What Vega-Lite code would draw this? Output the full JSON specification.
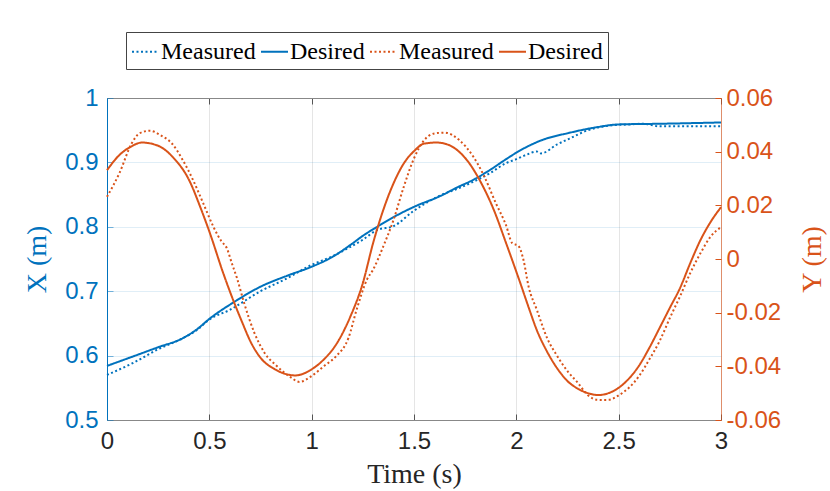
{
  "$schema": "https://vega.github.io/schema/vega-lite/v6.json",
  "width": 614,
  "height": 322,
  "autosize": {"type": "none"},
  "padding": {"left": 107, "top": 98, "right": 109, "bottom": 71},
  "background": "white",
  "config": {
    "view": {"stroke": null},
    "axis": {
      "labelFont": "Liberation Sans",
      "labelFontSize": 24,
      "labelFlush": false,
      "labelOverlap": false,
      "titleFont": "Liberation Serif",
      "titleFontSize": 28,
      "titleFontWeight": "normal",
      "tickSize": -6,
      "domainWidth": 1,
      "tickWidth": 1
    },
    "legend": {
      "labelFont": "Liberation Serif",
      "labelFontSize": 24,
      "labelColor": "black"
    }
  },
  "data": {
    "values": [
      {"t": 0, "v": 0.570, "s": "X Measured"},
      {"t": 0.13, "v": 0.589, "s": "X Measured"},
      {"t": 0.25, "v": 0.610, "s": "X Measured"},
      {"t": 0.37, "v": 0.627, "s": "X Measured"},
      {"t": 0.44, "v": 0.640, "s": "X Measured"},
      {"t": 0.5, "v": 0.656, "s": "X Measured"},
      {"t": 0.6, "v": 0.671, "s": "X Measured"},
      {"t": 0.75, "v": 0.700, "s": "X Measured"},
      {"t": 0.88, "v": 0.720, "s": "X Measured"},
      {"t": 1.0, "v": 0.741, "s": "X Measured"},
      {"t": 1.1, "v": 0.754, "s": "X Measured"},
      {"t": 1.19, "v": 0.769, "s": "X Measured"},
      {"t": 1.25, "v": 0.780, "s": "X Measured"},
      {"t": 1.32, "v": 0.795, "s": "X Measured"},
      {"t": 1.4, "v": 0.801, "s": "X Measured"},
      {"t": 1.5, "v": 0.825, "s": "X Measured"},
      {"t": 1.63, "v": 0.849, "s": "X Measured"},
      {"t": 1.72, "v": 0.860, "s": "X Measured"},
      {"t": 1.79, "v": 0.870, "s": "X Measured"},
      {"t": 1.87, "v": 0.883, "s": "X Measured"},
      {"t": 1.95, "v": 0.899, "s": "X Measured"},
      {"t": 2.0, "v": 0.905, "s": "X Measured"},
      {"t": 2.05, "v": 0.912, "s": "X Measured"},
      {"t": 2.1, "v": 0.917, "s": "X Measured"},
      {"t": 2.12, "v": 0.914, "s": "X Measured"},
      {"t": 2.2, "v": 0.928, "s": "X Measured"},
      {"t": 2.26, "v": 0.937, "s": "X Measured"},
      {"t": 2.35, "v": 0.950, "s": "X Measured"},
      {"t": 2.45, "v": 0.957, "s": "X Measured"},
      {"t": 2.55, "v": 0.959, "s": "X Measured"},
      {"t": 2.62, "v": 0.960, "s": "X Measured"},
      {"t": 2.7, "v": 0.956, "s": "X Measured"},
      {"t": 2.8, "v": 0.956, "s": "X Measured"},
      {"t": 3.0, "v": 0.956, "s": "X Measured"},

      {"t": 0, "v": 0.584, "s": "X Desired"},
      {"t": 0.13, "v": 0.599, "s": "X Desired"},
      {"t": 0.25, "v": 0.613, "s": "X Desired"},
      {"t": 0.37, "v": 0.627, "s": "X Desired"},
      {"t": 0.44, "v": 0.641, "s": "X Desired"},
      {"t": 0.5, "v": 0.657, "s": "X Desired"},
      {"t": 0.62, "v": 0.683, "s": "X Desired"},
      {"t": 0.75, "v": 0.707, "s": "X Desired"},
      {"t": 0.88, "v": 0.724, "s": "X Desired"},
      {"t": 1.0, "v": 0.738, "s": "X Desired"},
      {"t": 1.1, "v": 0.753, "s": "X Desired"},
      {"t": 1.19, "v": 0.772, "s": "X Desired"},
      {"t": 1.25, "v": 0.786, "s": "X Desired"},
      {"t": 1.32, "v": 0.800, "s": "X Desired"},
      {"t": 1.4, "v": 0.815, "s": "X Desired"},
      {"t": 1.5, "v": 0.831, "s": "X Desired"},
      {"t": 1.63, "v": 0.848, "s": "X Desired"},
      {"t": 1.71, "v": 0.861, "s": "X Desired"},
      {"t": 1.79, "v": 0.873, "s": "X Desired"},
      {"t": 1.87, "v": 0.888, "s": "X Desired"},
      {"t": 1.95, "v": 0.905, "s": "X Desired"},
      {"t": 2.01, "v": 0.917, "s": "X Desired"},
      {"t": 2.12, "v": 0.934, "s": "X Desired"},
      {"t": 2.26, "v": 0.946, "s": "X Desired"},
      {"t": 2.4, "v": 0.955, "s": "X Desired"},
      {"t": 2.5, "v": 0.959, "s": "X Desired"},
      {"t": 2.7, "v": 0.960, "s": "X Desired"},
      {"t": 3.0, "v": 0.962, "s": "X Desired"},

      {"t": 0, "v": 0.0232, "s": "Y Measured"},
      {"t": 0.06, "v": 0.0319, "s": "Y Measured"},
      {"t": 0.12, "v": 0.0430, "s": "Y Measured"},
      {"t": 0.16, "v": 0.0469, "s": "Y Measured"},
      {"t": 0.21, "v": 0.0478, "s": "Y Measured"},
      {"t": 0.26, "v": 0.0462, "s": "Y Measured"},
      {"t": 0.32, "v": 0.0428, "s": "Y Measured"},
      {"t": 0.37, "v": 0.0369, "s": "Y Measured"},
      {"t": 0.42, "v": 0.0295, "s": "Y Measured"},
      {"t": 0.47, "v": 0.0208, "s": "Y Measured"},
      {"t": 0.52, "v": 0.0120, "s": "Y Measured"},
      {"t": 0.56, "v": 0.0065, "s": "Y Measured"},
      {"t": 0.585, "v": 0.0041, "s": "Y Measured"},
      {"t": 0.61, "v": -0.0016, "s": "Y Measured"},
      {"t": 0.635, "v": -0.0071, "s": "Y Measured"},
      {"t": 0.67, "v": -0.0164, "s": "Y Measured"},
      {"t": 0.72, "v": -0.0275, "s": "Y Measured"},
      {"t": 0.77, "v": -0.0350, "s": "Y Measured"},
      {"t": 0.83, "v": -0.0399, "s": "Y Measured"},
      {"t": 0.9, "v": -0.0442, "s": "Y Measured"},
      {"t": 0.94, "v": -0.0458, "s": "Y Measured"},
      {"t": 1.0, "v": -0.0436, "s": "Y Measured"},
      {"t": 1.06, "v": -0.0399, "s": "Y Measured"},
      {"t": 1.12, "v": -0.0362, "s": "Y Measured"},
      {"t": 1.18, "v": -0.0294, "s": "Y Measured"},
      {"t": 1.22, "v": -0.0188, "s": "Y Measured"},
      {"t": 1.27, "v": -0.0077, "s": "Y Measured"},
      {"t": 1.3, "v": -0.0040, "s": "Y Measured"},
      {"t": 1.35, "v": 0.0047, "s": "Y Measured"},
      {"t": 1.4, "v": 0.0146, "s": "Y Measured"},
      {"t": 1.45, "v": 0.0269, "s": "Y Measured"},
      {"t": 1.5, "v": 0.0375, "s": "Y Measured"},
      {"t": 1.55, "v": 0.0443, "s": "Y Measured"},
      {"t": 1.6, "v": 0.0468, "s": "Y Measured"},
      {"t": 1.65, "v": 0.0471, "s": "Y Measured"},
      {"t": 1.72, "v": 0.0444, "s": "Y Measured"},
      {"t": 1.79, "v": 0.0381, "s": "Y Measured"},
      {"t": 1.84, "v": 0.0313, "s": "Y Measured"},
      {"t": 1.9, "v": 0.0208, "s": "Y Measured"},
      {"t": 1.95, "v": 0.0125, "s": "Y Measured"},
      {"t": 1.98, "v": 0.0059, "s": "Y Measured"},
      {"t": 2.01, "v": 0.0049, "s": "Y Measured"},
      {"t": 2.035, "v": -0.0004, "s": "Y Measured"},
      {"t": 2.06, "v": -0.0103, "s": "Y Measured"},
      {"t": 2.1, "v": -0.0189, "s": "Y Measured"},
      {"t": 2.15, "v": -0.0294, "s": "Y Measured"},
      {"t": 2.2, "v": -0.0362, "s": "Y Measured"},
      {"t": 2.25, "v": -0.0418, "s": "Y Measured"},
      {"t": 2.3, "v": -0.0461, "s": "Y Measured"},
      {"t": 2.35, "v": -0.0508, "s": "Y Measured"},
      {"t": 2.4, "v": -0.0525, "s": "Y Measured"},
      {"t": 2.45, "v": -0.0525, "s": "Y Measured"},
      {"t": 2.5, "v": -0.0508, "s": "Y Measured"},
      {"t": 2.55, "v": -0.0480, "s": "Y Measured"},
      {"t": 2.6, "v": -0.0436, "s": "Y Measured"},
      {"t": 2.65, "v": -0.0374, "s": "Y Measured"},
      {"t": 2.7, "v": -0.0306, "s": "Y Measured"},
      {"t": 2.75, "v": -0.0220, "s": "Y Measured"},
      {"t": 2.8, "v": -0.0139, "s": "Y Measured"},
      {"t": 2.85, "v": -0.0052, "s": "Y Measured"},
      {"t": 2.9, "v": 0.0022, "s": "Y Measured"},
      {"t": 2.95, "v": 0.0084, "s": "Y Measured"},
      {"t": 3.0, "v": 0.0119, "s": "Y Measured"},

      {"t": 0, "v": 0.0331, "s": "Y Desired"},
      {"t": 0.06, "v": 0.0387, "s": "Y Desired"},
      {"t": 0.12, "v": 0.0420, "s": "Y Desired"},
      {"t": 0.17, "v": 0.0434, "s": "Y Desired"},
      {"t": 0.25, "v": 0.0422, "s": "Y Desired"},
      {"t": 0.32, "v": 0.0381, "s": "Y Desired"},
      {"t": 0.405, "v": 0.0288, "s": "Y Desired"},
      {"t": 0.455, "v": 0.0195, "s": "Y Desired"},
      {"t": 0.503, "v": 0.0096, "s": "Y Desired"},
      {"t": 0.568, "v": -0.0053, "s": "Y Desired"},
      {"t": 0.62, "v": -0.0160, "s": "Y Desired"},
      {"t": 0.66, "v": -0.0235, "s": "Y Desired"},
      {"t": 0.7, "v": -0.0306, "s": "Y Desired"},
      {"t": 0.75, "v": -0.0368, "s": "Y Desired"},
      {"t": 0.82, "v": -0.0411, "s": "Y Desired"},
      {"t": 0.88, "v": -0.0430, "s": "Y Desired"},
      {"t": 0.92, "v": -0.0434, "s": "Y Desired"},
      {"t": 1.0, "v": -0.0411, "s": "Y Desired"},
      {"t": 1.06, "v": -0.0374, "s": "Y Desired"},
      {"t": 1.12, "v": -0.0318, "s": "Y Desired"},
      {"t": 1.19, "v": -0.0213, "s": "Y Desired"},
      {"t": 1.25, "v": -0.0090, "s": "Y Desired"},
      {"t": 1.3, "v": 0.0059, "s": "Y Desired"},
      {"t": 1.35, "v": 0.0183, "s": "Y Desired"},
      {"t": 1.4, "v": 0.0282, "s": "Y Desired"},
      {"t": 1.45, "v": 0.0356, "s": "Y Desired"},
      {"t": 1.5, "v": 0.0402, "s": "Y Desired"},
      {"t": 1.55, "v": 0.0430, "s": "Y Desired"},
      {"t": 1.61, "v": 0.0434, "s": "Y Desired"},
      {"t": 1.67, "v": 0.0425, "s": "Y Desired"},
      {"t": 1.72, "v": 0.0400, "s": "Y Desired"},
      {"t": 1.77, "v": 0.0357, "s": "Y Desired"},
      {"t": 1.82, "v": 0.0295, "s": "Y Desired"},
      {"t": 1.89, "v": 0.0183, "s": "Y Desired"},
      {"t": 1.95, "v": 0.0059, "s": "Y Desired"},
      {"t": 2.02, "v": -0.0091, "s": "Y Desired"},
      {"t": 2.06, "v": -0.0180, "s": "Y Desired"},
      {"t": 2.1, "v": -0.0265, "s": "Y Desired"},
      {"t": 2.15, "v": -0.0345, "s": "Y Desired"},
      {"t": 2.2, "v": -0.0408, "s": "Y Desired"},
      {"t": 2.25, "v": -0.0455, "s": "Y Desired"},
      {"t": 2.3, "v": -0.0483, "s": "Y Desired"},
      {"t": 2.35, "v": -0.0500, "s": "Y Desired"},
      {"t": 2.4, "v": -0.0507, "s": "Y Desired"},
      {"t": 2.45, "v": -0.0500, "s": "Y Desired"},
      {"t": 2.5, "v": -0.0480, "s": "Y Desired"},
      {"t": 2.55, "v": -0.0446, "s": "Y Desired"},
      {"t": 2.6, "v": -0.0397, "s": "Y Desired"},
      {"t": 2.65, "v": -0.0331, "s": "Y Desired"},
      {"t": 2.7, "v": -0.0257, "s": "Y Desired"},
      {"t": 2.75, "v": -0.0182, "s": "Y Desired"},
      {"t": 2.8, "v": -0.0108, "s": "Y Desired"},
      {"t": 2.85, "v": -0.0015, "s": "Y Desired"},
      {"t": 2.9, "v": 0.0071, "s": "Y Desired"},
      {"t": 2.95, "v": 0.0139, "s": "Y Desired"},
      {"t": 3.0, "v": 0.0193, "s": "Y Desired"}
    ]
  },
  "encoding": {
    "color": {
      "field": "s",
      "type": "nominal",
      "scale": {
        "domain": ["X Measured", "X Desired", "Y Measured", "Y Desired"],
        "range": ["#0072BD", "#0072BD", "#D95319", "#D95319"]
      },
      "legend": {
        "title": null,
        "orient": "none",
        "legendX": 19,
        "legendY": -66,
        "direction": "horizontal",
        "labelExpr": "split(datum.value, ' ')[1]",
        "symbolType": "stroke",
        "symbolSize": 729,
        "symbolStrokeWidth": 2,
        "labelOffset": 1,
        "columnPadding": 1,
        "padding": 5,
        "strokeColor": "#444444",
        "fillColor": "white"
      }
    },
    "strokeDash": {
      "field": "s",
      "type": "nominal",
      "scale": {
        "domain": ["X Measured", "X Desired", "Y Measured", "Y Desired"],
        "range": [[2, 2.5], [1, 0], [2, 2.5], [1, 0]]
      },
      "legend": {
        "title": null,
        "orient": "none",
        "legendX": 19,
        "legendY": -66,
        "direction": "horizontal",
        "labelExpr": "split(datum.value, ' ')[1]",
        "symbolType": "stroke",
        "symbolSize": 729,
        "symbolStrokeWidth": 2,
        "labelOffset": 1,
        "columnPadding": 1,
        "padding": 5,
        "strokeColor": "#444444",
        "fillColor": "white"
      }
    }
  },
  "layer": [
    {
      "transform": [{"filter": "indexof(datum.s, 'X ') == 0"}],
      "mark": {"type": "line", "strokeWidth": 2, "interpolate": "monotone"},
      "encoding": {
        "x": {
          "field": "t",
          "type": "quantitative",
          "scale": {"domain": [0, 3], "nice": false},
          "axis": {
            "orient": "bottom",
            "title": "Time (s)",
            "values": [0, 0.5, 1, 1.5, 2, 2.5, 3],
            "labelExpr": "'' + datum.value",
            "labelColor": "#262626",
            "titleColor": "#262626",
            "domainColor": "#888888",
            "tickColor": "#555555",
            "grid": true,
            "gridColor": "#262626",
            "gridOpacity": 0.12,
            "labelPadding": 15,
            "titlePadding": 7
          }
        },
        "y": {
          "field": "v",
          "type": "quantitative",
          "scale": {"domain": [0.5, 1], "nice": false, "zero": false},
          "axis": {
            "orient": "left",
            "title": "X (m)",
            "values": [0.5, 0.6, 0.7, 0.8, 0.9, 1],
            "labelExpr": "'' + datum.value",
            "labelColor": "#0072BD",
            "titleColor": "#0072BD",
            "domainColor": "#0072BD",
            "tickColor": "#0072BD",
            "tickOpacity": 0.5,
            "grid": true,
            "gridColor": "#0072BD",
            "gridOpacity": 0.12,
            "labelPadding": 15,
            "titlePadding": 13
          }
        }
      }
    },
    {
      "transform": [{"filter": "indexof(datum.s, 'Y ') == 0"}],
      "mark": {"type": "line", "strokeWidth": 2, "interpolate": "monotone"},
      "encoding": {
        "x": {
          "field": "t",
          "type": "quantitative",
          "scale": {"domain": [0, 3], "nice": false},
          "axis": {
            "orient": "top",
            "title": null,
            "labels": false,
            "values": [0, 0.5, 1, 1.5, 2, 2.5, 3],
            "domainColor": "#888888",
            "tickColor": "#555555",
            "grid": false
          }
        },
        "y": {
          "field": "v",
          "type": "quantitative",
          "scale": {"domain": [-0.06, 0.06], "nice": false, "zero": false},
          "axis": {
            "orient": "right",
            "title": "Y (m)",
            "titleAngle": 270,
            "values": [-0.06, -0.04, -0.02, 0, 0.02, 0.04, 0.06],
            "labelExpr": "'' + datum.value",
            "labelColor": "#D95319",
            "titleColor": "#D95319",
            "domainColor": "#D95319",
            "domainOpacity": 0.6,
            "tickColor": "#D95319",
            "grid": false,
            "labelPadding": 11,
            "titlePadding": 46
          }
        }
      }
    }
  ],
  "resolve": {
    "scale": {"y": "independent"},
    "axis": {"x": "independent", "y": "independent"}
  }
}
